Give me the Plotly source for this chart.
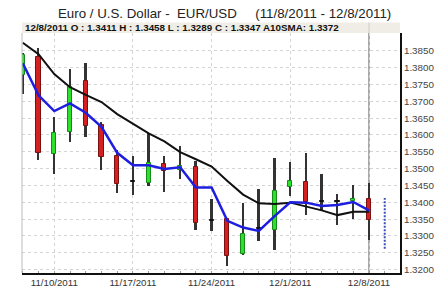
import plotly.graph_objects as go

dates = ["11/8/2011", "11/9/2011", "11/10/2011", "11/11/2011", "11/14/2011", "11/15/2011",
         "11/16/2011", "11/17/2011", "11/18/2011", "11/21/2011", "11/22/2011", "11/23/2011",
         "11/24/2011", "11/25/2011", "11/28/2011", "11/29/2011", "11/30/2011", "12/1/2011",
         "12/2/2011", "12/5/2011", "12/6/2011", "12/7/2011", "12/8/2011"]

open_ = [1.3777, 1.3833, 1.3544, 1.3610, 1.3761, 1.3630, 1.3539, 1.3461, 1.3457, 1.3513, 1.3496, 1.3506,
         1.3345, 1.3350, 1.3246, 1.3320, 1.3319, 1.3446, 1.3461, 1.3400, 1.3400, 1.3404, 1.3411]
high = [1.3845, 1.3858, 1.3652, 1.3796, 1.3815, 1.3640, 1.3555, 1.3539, 1.3605, 1.3539, 1.3567, 1.3523,
        1.3411, 1.3353, 1.3398, 1.3440, 1.3532, 1.3520, 1.3546, 1.3485, 1.3425, 1.3452, 1.3458]
low = [1.3723, 1.3525, 1.3484, 1.3578, 1.3594, 1.3495, 1.3428, 1.3421, 1.3447, 1.3430, 1.3468, 1.3317,
       1.3315, 1.3211, 1.3244, 1.3286, 1.3258, 1.3418, 1.3362, 1.3378, 1.3334, 1.3350, 1.3289]
close = [1.3839, 1.3548, 1.3605, 1.3744, 1.3628, 1.3536, 1.3454, 1.3461, 1.3517, 1.3492, 1.3508, 1.3340,
         1.3345, 1.3240, 1.3306, 1.3320, 1.3435, 1.3463, 1.3402, 1.3400, 1.3400, 1.3411, 1.3347]

sma10 = [1.3874, 1.3840, 1.3781, 1.3742, 1.3719, 1.3698, 1.3662, 1.3633, 1.3605, 1.3581, 1.3549, 1.3528,
         1.3506, 1.3463, 1.3423, 1.3397, 1.3395, 1.3399, 1.3388, 1.3376, 1.3362, 1.3372, 1.3372]
blue_line = [1.3813, 1.3718, 1.3671, 1.3694, 1.3666, 1.3624, 1.3547, 1.3510, 1.3510, 1.3499, 1.3504, 1.3444,
             1.3444, 1.3345, 1.3325, 1.3315, 1.3359, 1.3400, 1.3399, 1.3389, 1.3392, 1.3401, 1.3376]

proj_range = [1.3262, 1.3413]

x_tick_labels = ["11/10/2011", "11/17/2011", "11/24/2011", "12/1/2011", "12/8/2011"]
y_ticks = [1.3200, 1.3250, 1.3300, 1.3350, 1.3400, 1.3450, 1.3500, 1.3550,
           1.3600, 1.3650, 1.3700, 1.3750, 1.3800, 1.3850]

title_text = "Euro / U.S. Dollar -\u00a0 EUR/USD\u00a0\u00a0\u00a0\u00a0\u00a0(11/8/2011 - 12/8/2011)"
last = len(dates) - 1
header_text = (f"{dates[last]} O : {open_[last]:.4f} H : {high[last]:.4f} "
               f"L : {low[last]:.4f} C : {close[last]:.4f} A10SMA: {sma10[last]:.4f}")

idx = list(range(len(dates)))
tickpos = [dates.index(d) for d in x_tick_labels]

body_fill, body_line, body_base, body_h = [], [], [], []
for o, c in zip(open_, close):
    if c > o:
        body_fill.append("#2ee02e"); body_line.append("#168a16")
    elif c < o:
        body_fill.append("#d42020"); body_line.append("#7a1010")
    else:
        body_fill.append("#111111"); body_line.append("#111111")
    body_base.append(min(o, c))
    body_h.append(max(abs(c - o), 0.00025))

fig = go.Figure()

# wicks
fig.add_trace(go.Bar(x=idx, y=[h - l for h, l in zip(high, low)], base=low, width=0.12,
                     marker=dict(color="#333333", line=dict(width=0)), hoverinfo="skip"))
# bodies
fig.add_trace(go.Bar(x=idx, y=body_h, base=body_base, width=0.26,
                     marker=dict(color=body_fill, line=dict(color=body_line, width=1)), hoverinfo="skip"))
# projection dashed line
fig.add_trace(go.Scatter(x=[len(dates), len(dates)], y=proj_range, mode="lines",
                         line=dict(color="#3a4fb8", width=2, dash="2px,1.5px"), hoverinfo="skip"))
fig.add_trace(go.Scatter(x=idx, y=sma10, mode="lines", line=dict(color="#111111", width=2)))
fig.add_trace(go.Scatter(x=idx, y=blue_line, mode="lines", line=dict(color="#1e1ee0", width=2.5)))

fig.update_layout(
    width=446, height=300,
    margin=dict(l=22, r=35, t=33, b=15),
    paper_bgcolor="white", plot_bgcolor="white",
    showlegend=False, barmode="overlay", bargap=0,
    font=dict(family="Liberation Sans, Arial, sans-serif", color="#333333"),
    xaxis=dict(range=[-0.05, 23.97], tickmode="array", tickvals=tickpos, ticktext=x_tick_labels,
               showgrid=True, gridcolor="#d4d4d4", griddash="dot", gridwidth=1,
               showline=True, linecolor="#111111", linewidth=1.5, ticks="", zeroline=False,
               tickfont=dict(size=9.7, color="#333333"),
               minor=dict(tickmode="linear", tick0=0, dtick=1, ticks="inside", ticklen=2,
                          tickcolor="#999999", showgrid=False)),
    yaxis=dict(range=[1.3190, 1.3903], side="right", tickmode="array", tickvals=y_ticks,
               tickformat=".4f", showgrid=True, gridcolor="#d4d4d4", griddash="dot", gridwidth=1,
               showline=True, linecolor="#111111", linewidth=2, ticks="", zeroline=False,
               tickfont=dict(size=9.8, color="#444444")),
)

box_top = 1 + 11 / 252
shapes = [
    dict(type="rect", xref="paper", yref="paper", x0=0, x1=1, y0=1.0, y1=box_top,
         fillcolor="#efede5", line=dict(width=0), layer="above"),
    dict(type="line", xref="paper", yref="paper", x0=0, x1=0, y0=0, y1=1,
         line=dict(color="#bbbbbb", width=1), layer="above"),
    dict(type="line", xref="x", yref="paper", x0=last, x1=last, y0=0, y1=1,
         line=dict(color="#555555", width=1), layer="between"),
    dict(type="line", xref="x", yref="paper", x0=last, x1=last, y0=1, y1=box_top,
         line=dict(color="#cccccc", width=1), layer="above"),
]
fig.update_layout(shapes=shapes)

fig.add_annotation(xref="paper", yref="paper", x=0.003, y=(1 + box_top) / 2, xanchor="left",
                   yanchor="middle", showarrow=False, text="<b>" + header_text + "</b>",
                   font=dict(size=9.8, color="#111111", family="Liberation Sans, Arial, sans-serif"))
fig.add_annotation(xref="paper", yref="paper", x=0.535, y=1 + 21 / 252, xanchor="center",
                   yanchor="middle", showarrow=False, text=title_text,
                   font=dict(size=13.3, color="#222222", family="Liberation Sans, Arial, sans-serif"))

fig.write_html("out.html")
